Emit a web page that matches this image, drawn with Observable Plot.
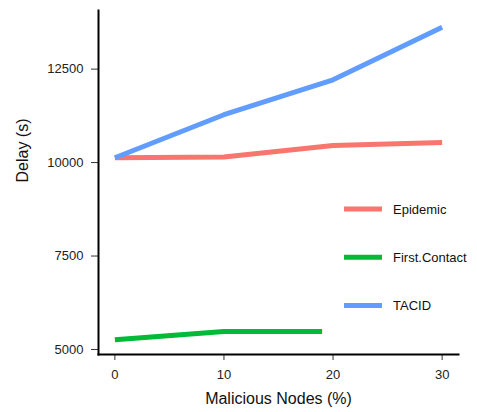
<!DOCTYPE html>
<html>
<head>
<meta charset="utf-8">
<script src="https://cdn.jsdelivr.net/npm/d3@7"></script>
<script src="https://cdn.jsdelivr.net/npm/@observablehq/plot@0.6"></script>
<style>
  html, body { margin: 0; padding: 0; background: white; }
</style>
</head>
<body>
<div id="chart"></div>
<script>
const seriesNames = ["Epidemic", "First.Contact", "TACID"];
const seriesColors = ["#F8766D", "#00BA38", "#619CFF"];
const epidemicX = [0, 10, 20, 30];
const epidemicY = [10130, 10150, 10455, 10540];
const firstContactX = [0, 10, 19];
const firstContactY = [5260, 5480, 5480];
const tacidX = [0, 10, 20, 30];
const tacidY = [10130, 11280, 12215, 13620];
const xTicks = [0, 10, 20, 30];
const yTicks = [5000, 7500, 10000, 12500];
const xTitle = "Malicious Nodes (%)";
const yTitle = "Delay (s)";

const rows = [];
[[epidemicX, epidemicY], [firstContactX, firstContactY], [tacidX, tacidY]].forEach(([xs, ys], i) => {
  xs.forEach((x, j) => rows.push({series: seriesNames[i], x, y: ys[j]}));
});

const font = "'Liberation Sans', Arial, Helvetica, sans-serif";

const chart = Plot.plot({
  width: 477,
  height: 412,
  marginLeft: 98,
  marginRight: 19,
  marginTop: 10,
  marginBottom: 58,
  style: {fontFamily: font, fontSize: "13px", background: "white", color: "#222"},
  x: {domain: [-1.5, 31.5]},
  y: {domain: [4866, 14068]},
  color: {domain: seriesNames, range: seriesColors},
  marks: [
    Plot.axisX({ticks: xTicks, tickSize: 6, tickPadding: 9, label: null, stroke: "#333", fill: "#222", fontSize: 13}),
    Plot.axisY({ticks: yTicks, tickSize: 7, tickPadding: 8, label: null, tickFormat: d3.format("d"), stroke: "#333", fill: "#222", fontSize: 13}),
    Plot.line(rows, {x: "x", y: "y", z: "series", stroke: "series", strokeWidth: 5, strokeLinejoin: "round", strokeLinecap: "butt"}),
    Plot.frame({anchor: "left", stroke: "black", strokeWidth: 2}),
    Plot.frame({anchor: "bottom", stroke: "black", strokeWidth: 2}),
    Plot.text([xTitle], {text: d => d, frameAnchor: "bottom", dy: 49, fontSize: 16, fill: "#111"}),
    Plot.text([yTitle], {text: d => d, frameAnchor: "left", dx: -76, rotate: -90, fontSize: 16, fill: "#111"})
  ]
});

document.getElementById("chart").appendChild(chart);

// legend inside the panel
const svg = d3.select(chart);
const legend = svg.append("g")
  .attr("font-family", font)
  .attr("font-size", 13)
  .attr("text-anchor", "start");
seriesNames.forEach((name, i) => {
  const yy = 209 + i * 48.3;
  legend.append("line")
    .attr("x1", 344).attr("x2", 382).attr("y1", yy).attr("y2", yy)
    .attr("stroke", seriesColors[i]).attr("stroke-width", 5);
  legend.append("text")
    .attr("x", 393).attr("y", yy).attr("dy", "0.35em")
    .attr("text-anchor", "start")
    .attr("fill", "#111").text(name);
});
</script>
</body>
</html>
